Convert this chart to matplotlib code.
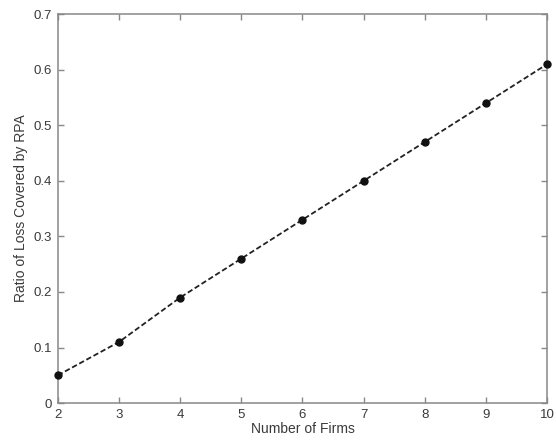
import matplotlib
matplotlib.use("Agg")
import matplotlib.pyplot as plt

plt.rcParams['font.family'] = ['Liberation Sans', 'DejaVu Sans']

firms = [2, 3, 4, 5, 6, 7, 8, 9, 10]
ratio = [0.05, 0.11, 0.19, 0.26, 0.33, 0.40, 0.47, 0.54, 0.61]
xticks = [2, 3, 4, 5, 6, 7, 8, 9, 10]
yticks = [0, 0.1, 0.2, 0.3, 0.4, 0.5, 0.6, 0.7]
yticklabels = ['0', '0.1', '0.2', '0.3', '0.4', '0.5', '0.6', '0.7']

fig = plt.figure(figsize=(5.56, 4.42), dpi=100)
ax = fig.add_axes([0.104, 0.088, 0.88, 0.88])

ax.plot(firms, ratio, color='#222222', linestyle='--', linewidth=1.3,
        marker='o', markersize=5, markerfacecolor='#111111', markeredgecolor='#111111',
        dashes=(3, 1.5), clip_on=False, zorder=3)

ax.set_xlim(2, 10)
ax.set_ylim(0, 0.7)
ax.set_xticks(xticks)
ax.set_yticks(yticks)
ax.set_yticklabels(yticklabels)

for s in ax.spines.values():
    s.set_color('#888888')
    s.set_linewidth(1.1)
ax.tick_params(direction='in', length=4, color='#888888', labelsize=9.5,
               labelcolor='#3a3a3a', top=True, right=True, width=1.0, pad=4)

ax.set_xlabel('Number of Firms', fontsize=10, color='#3a3a3a', labelpad=1)
ax.set_ylabel('Ratio of Loss Covered by RPA', fontsize=10, color='#3a3a3a', labelpad=4)

fig.savefig('out.png', dpi=100)
